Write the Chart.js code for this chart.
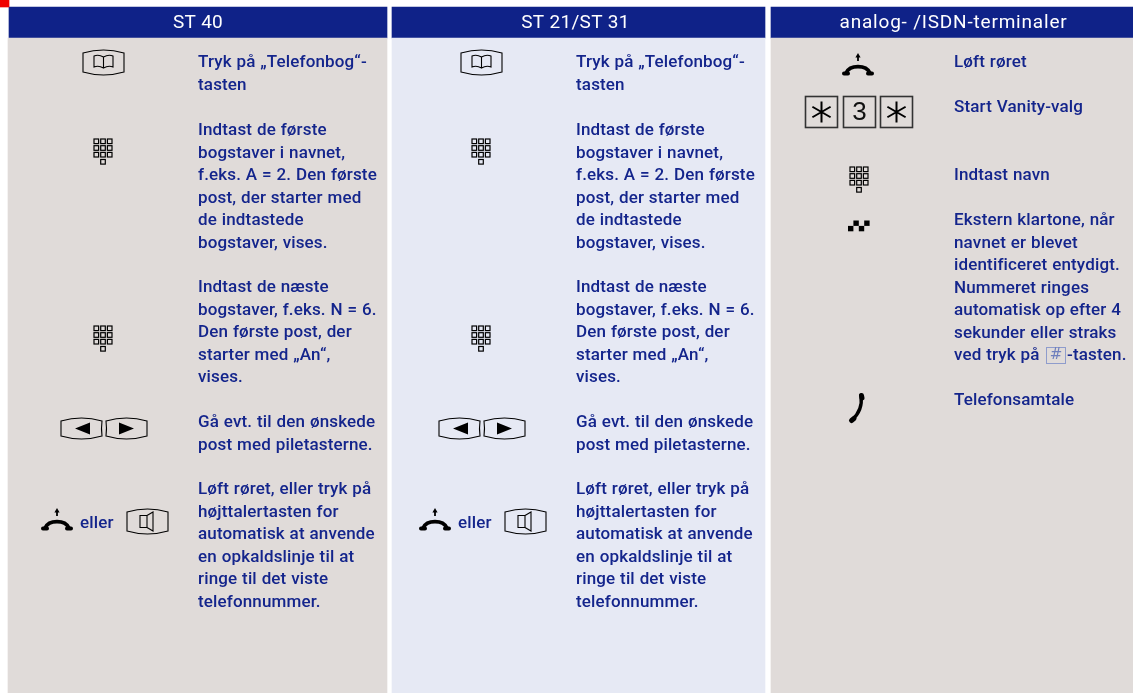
<!DOCTYPE html>
<html>
<head>
<meta charset="utf-8">
<style>
html,body{margin:0;padding:0;background:#fff}
canvas{display:block}
</style>
<script src="https://cdn.jsdelivr.net/npm/chart.js@4"></script>
</head>
<body>
<canvas id="myChart" width="1133" height="693"></canvas>
<script>
// texts
const columnTitles = ["ST 40", "ST 21/ST 31", "analog- /ISDN-terminaler"];
const keyWord = "eller";
const phoneSteps = [
  ["Tryk på „Telefonbog“-", "tasten"],
  ["Indtast de første", "bogstaver i navnet,", "f.eks. A = 2. Den første", "post, der starter med", "de indtastede", "bogstaver, vises."],
  ["Indtast de næste", "bogstaver, f.eks. N = 6.", "Den første post, der", "starter med „An“,", "vises."],
  ["Gå evt. til den ønskede", "post med piletasterne."],
  ["Løft røret, eller tryk på", "højttalertasten for", "automatisk at anvende", "en opkaldslinje til at", "ringe til det viste", "telefonnummer."]
];
const analogSteps = [
  ["Løft røret"],
  ["Start Vanity-valg"],
  ["Indtast navn"],
  ["Ekstern klartone, når", "navnet er blevet", "identificeret entydigt.", "Nummeret ringes", "automatisk op efter 4", "sekunder eller straks"],
  ["Telefonsamtale"]
];
const hashLine = ["ved tryk på", "-tasten."];

// layout, in page pixels
const colLeft = [8, 392, 771];
const colRight = [387, 765, 1133];
const headTop = 7, headBottom = 38, pageBottom = 693;
const phoneStepY = [63, 131, 288, 423, 490];
const analogStepY = [63, 108, 176, 221, 401];
const lineGap = 22.45;
const textX = [198, 576, 954];
const NAVY = "#0f2288", INK = "#14258c", GREY = "#e0dbd9", PALE = "#e6e9f4";

function bar(l, r, top, bottom, color) {
  return {
    data: [{ x: (l + r) / 2, y: [top, bottom] }],
    barThickness: r - l,
    backgroundColor: color,
    grouped: false
  };
}

const bodyColors = [GREY, PALE, GREY];
const datasets = [bar(0, 9, 0, 7, "#f00000")];
colLeft.forEach(function (l, i) {
  datasets.push(bar(l, colRight[i], headBottom, pageBottom, bodyColors[i]));
  datasets.push(bar(i == 0 ? l + 1 : l, colRight[i], headTop, headBottom, NAVY));
});

function keyShape(ctx, l, t, r, b, leftBow, rightBow) {
  // key outline with bowed top and bottom edges
  const mid = (l + r) / 2, bow = 3;
  ctx.beginPath();
  ctx.moveTo(l, t + bow);
  ctx.quadraticCurveTo(mid, t - bow, r, t + bow);
  ctx.quadraticCurveTo(r + rightBow, (t + b) / 2, r, b - bow);
  ctx.quadraticCurveTo(mid, b + bow, l, b - bow);
  ctx.quadraticCurveTo(l + leftBow, (t + b) / 2, l, t + bow);
  ctx.closePath();
  ctx.stroke();
}

function bookKey(ctx, cx, cy) {
  keyShape(ctx, cx - 20.5, cy - 12, cx + 20.5, cy + 13, 0, 0);
  ctx.beginPath();
  ctx.moveTo(cx, cy - 5);
  ctx.quadraticCurveTo(cx - 5, cy - 8, cx - 9.5, cy - 6);
  ctx.lineTo(cx - 9.5, cy + 5);
  ctx.quadraticCurveTo(cx - 5, cy + 3, cx, cy + 6);
  ctx.quadraticCurveTo(cx + 5, cy + 3, cx + 9.5, cy + 5);
  ctx.lineTo(cx + 9.5, cy - 6);
  ctx.quadraticCurveTo(cx + 5, cy - 8, cx, cy - 5);
  ctx.lineTo(cx, cy + 6);
  ctx.stroke();
}

function keypad(ctx, cx, cy) {
  const pitch = 6.7, size = 4.6;
  ctx.lineWidth = 1.2;
  for (let r = 0; r < 3; r++) {
    for (let c = -1; c <= 1; c++) {
      ctx.strokeRect(cx + c * pitch - size / 2, cy - 11 + r * pitch, size, size);
    }
  }
  ctx.strokeRect(cx - size / 2, cy + 9.5, size, size);
  ctx.lineWidth = 1.1;
}

function arrowKeys(ctx, l, t) {
  keyShape(ctx, l, t + 1, l + 41, t + 22, 0, -1);
  keyShape(ctx, l + 45, t + 1, l + 86, t + 22, 1, 0);
  ctx.beginPath();
  ctx.moveTo(l + 14, t + 11.5); ctx.lineTo(l + 29, t + 5.5); ctx.lineTo(l + 29, t + 17.5); ctx.closePath();
  ctx.moveTo(l + 73, t + 11.5); ctx.lineTo(l + 58, t + 5.5); ctx.lineTo(l + 58, t + 17.5); ctx.closePath();
  ctx.fill();
}

function speakerKey(ctx, l, t) {
  keyShape(ctx, l, t, l + 41, t + 25, 0, 0);
  const cx = l + 20;
  ctx.beginPath();
  ctx.rect(cx - 7, t + 6.5, 7, 12);
  ctx.moveTo(cx, t + 6.5); ctx.lineTo(cx + 6, t + 3); ctx.lineTo(cx + 6, t + 22); ctx.lineTo(cx, t + 18.5);
  ctx.stroke();
}

// lifted handset, centred on the arrow
function handset(ctx, cx, cy) {
  ctx.save();
  ctx.lineCap = "butt";
  ctx.lineWidth = 3.6;
  ctx.beginPath();
  ctx.moveTo(cx - 12, cy + 11);
  ctx.bezierCurveTo(cx - 8, cy + 2.5, cx + 8, cy + 2.5, cx + 12, cy + 11);
  ctx.stroke();
  ctx.lineCap = "round";
  ctx.lineWidth = 4;
  ctx.beginPath();
  ctx.moveTo(cx - 14, cy + 11.5); ctx.lineTo(cx - 10, cy + 11.5);
  ctx.moveTo(cx + 14, cy + 11.5); ctx.lineTo(cx + 10, cy + 11.5);
  ctx.stroke();
  ctx.lineCap = "butt";
  ctx.lineWidth = 1.8;
  ctx.beginPath();
  ctx.moveTo(cx, cy - 1); ctx.lineTo(cx, cy - 5);
  ctx.stroke();
  ctx.beginPath();
  ctx.moveTo(cx, cy - 9); ctx.lineTo(cx - 2.6, cy - 4.5); ctx.lineTo(cx + 2.6, cy - 4.5); ctx.closePath();
  ctx.fill();
  ctx.restore();
}

function talkingHandset(ctx, cx, cy) {
  ctx.save();
  ctx.lineCap = "round";
  ctx.lineWidth = 3.4;
  ctx.beginPath();
  ctx.moveTo(cx + 4, cy - 12);
  ctx.quadraticCurveTo(cx + 6, cy + 2, cx - 5, cy + 12);
  ctx.stroke();
  ctx.lineWidth = 5;
  ctx.beginPath();
  ctx.moveTo(cx + 4.5, cy - 12.5); ctx.lineTo(cx + 5, cy - 10);
  ctx.moveTo(cx - 5.5, cy + 12.5); ctx.lineTo(cx - 3, cy + 10.5);
  ctx.stroke();
  ctx.restore();
}

function starKey(ctx, l, t, text) {
  ctx.lineWidth = 1.6;
  ctx.strokeStyle = "#333";
  ctx.strokeRect(l + 0.5, t + 0.5, 32, 31);
  ctx.strokeStyle = "#000";
  const cx = l + 16.5, cy = t + 16;
  if (text) {
    ctx.font = "400 26px 'Liberation Sans'";
    ctx.textAlign = "center";
    ctx.fillStyle = "#111";
    ctx.fillText(text, cx, cy + 1);
    ctx.textAlign = "left";
    ctx.fillStyle = "#000";
    return;
  }
  ctx.lineWidth = 2;
  ctx.beginPath();
  for (let a = 0; a < 3; a++) {
    const ang = Math.PI / 2 + a * Math.PI / 3;
    ctx.moveTo(cx + 10.5 * Math.cos(ang), cy + 10.5 * Math.sin(ang));
    ctx.lineTo(cx - 10.5 * Math.cos(ang), cy - 10.5 * Math.sin(ang));
  }
  ctx.stroke();
  ctx.lineWidth = 1.1;
}

function toneMark(ctx, l, t) {
  const s = 5.4;
  ctx.fillRect(l, t + s, s, s);
  ctx.fillRect(l + s, t, s, s);
  ctx.fillRect(l + 2 * s, t + s, s, s);
  ctx.fillRect(l + 3 * s, t, s, s);
}

function writeSteps(ctx, steps, rows, x) {
  steps.forEach(function (lines, i) {
    lines.forEach(function (line, n) {
      ctx.fillText(line, x, rows[i] + n * lineGap);
    });
  });
}

const pagePlugin = {
  id: "pageText",
  afterDatasetsDraw: function (chart) {
    const ctx = chart.ctx;
    const px = chart.scales.x, py = chart.scales.y;
    const X = function (v) { return px.getPixelForValue(v); };
    const Y = function (v) { return py.getPixelForValue(v); };
    ctx.save();
    ctx.textBaseline = "middle";

    // column heads
    ctx.fillStyle = "#ffffff";
    ctx.textAlign = "center";
    ctx.font = "400 19px Roboto";
    ctx.letterSpacing = "0.3px";
    ctx.fillText(columnTitles[0], X(198), Y(23));
    ctx.fillText(columnTitles[1], X(575.5), Y(23));
    ctx.letterSpacing = "0.8px";
    ctx.fillText(columnTitles[2], X(953.5), Y(23));

    // step texts
    ctx.textAlign = "left";
    ctx.fillStyle = INK;
    ctx.font = "500 17px Roboto";
    ctx.letterSpacing = "0.15px";
    ctx.wordSpacing = "0.4px";
    writeSteps(ctx, phoneSteps, phoneStepY, X(textX[0]));
    writeSteps(ctx, phoneSteps, phoneStepY, X(textX[1]));
    writeSteps(ctx, analogSteps, analogStepY, X(textX[2]));
    ctx.fillText(hashLine[0], X(954), Y(356));
    ctx.fillText(hashLine[1], X(1067), Y(356));
    ctx.fillText(keyWord, X(80), Y(524));
    ctx.fillText(keyWord, X(458), Y(524));
    ctx.letterSpacing = "0px";
    ctx.wordSpacing = "0px";

    // # key in the running text
    ctx.strokeStyle = "#8f9ccc";
    ctx.lineWidth = 1;
    ctx.strokeRect(X(1046.5), Y(347.5), 19, 16);
    ctx.fillStyle = "#6f7fbd";
    ctx.font = "400 15px 'DejaVu Sans'";
    ctx.textAlign = "center";
    ctx.fillText("#", X(1056), Y(355.5));
    ctx.textAlign = "left";

    // key symbols, phone columns repeat with an offset
    ctx.strokeStyle = "#000";
    ctx.fillStyle = "#000";
    ctx.lineWidth = 1.1;
    [0, 378].forEach(function (dx) {
      bookKey(ctx, X(103.5 + dx), Y(62));
      keypad(ctx, X(103 + dx), Y(150));
      keypad(ctx, X(103 + dx), Y(337));
      arrowKeys(ctx, X(61 + dx), Y(417));
      handset(ctx, X(57 + dx), Y(517));
      speakerKey(ctx, X(127 + dx), Y(509));
    });
    handset(ctx, X(858), Y(62));
    starKey(ctx, X(805), Y(96));
    starKey(ctx, X(843), Y(96), "3");
    starKey(ctx, X(880), Y(96));
    keypad(ctx, X(859), Y(178));
    toneMark(ctx, X(848), Y(220.5));
    talkingHandset(ctx, X(857), Y(408));
    ctx.restore();
  }
};

new Chart("myChart", {
  type: "bar",
  data: { datasets: datasets },
  options: {
    responsive: false,
    animation: false,
    layout: { padding: 0 },
    scales: {
      x: { type: "linear", min: 0, max: 1133, offset: false, display: false },
      y: { type: "linear", min: 0, max: 693, reverse: true, display: false }
    },
    plugins: { legend: { display: false }, tooltip: { enabled: false } }
  },
  plugins: [pagePlugin]
});
</script>
</body>
</html>
